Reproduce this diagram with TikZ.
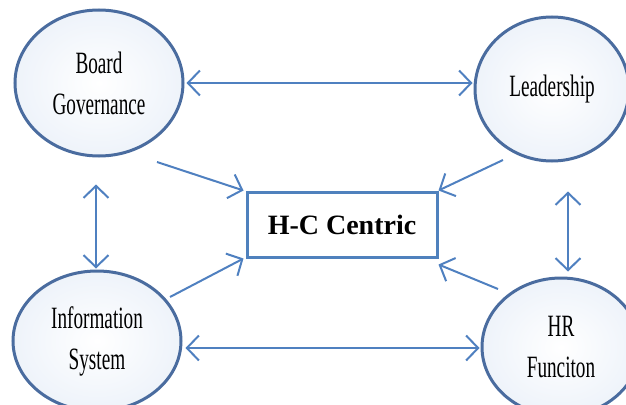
\documentclass[tikz,border=0pt]{standalone}
\usepackage{fontspec}
\setmainfont{Liberation Serif}
\newfontfamily\condfont[FakeStretch=0.62]{Liberation Serif}
\usetikzlibrary{shapes.geometric,arrows.meta}
\definecolor{ellline}{HTML}{4A6C9F}
\definecolor{arrline}{HTML}{4F80C0}
\definecolor{boxline}{HTML}{4F81BD}
\definecolor{glow}{HTML}{EEF3FA}
\tikzset{
  bubble/.style={ellipse, draw=ellline, line width=3pt, inner color=white, outer color=glow,
    align=center, font=\condfont\fontsize{31}{41}\selectfont, inner sep=0pt},
  centre/.style={draw=boxline, line width=3pt, fill=white, font=\bfseries\fontsize{28}{32}\selectfont,
    minimum width=190pt, minimum height=65pt, inner sep=0pt},
  link/.style={draw=arrline, line width=2pt, {Straight Barb[length=12pt,width=25pt]}-{Straight Barb[length=12pt,width=25pt]}},
  onelink/.style={draw=arrline, line width=2pt, -{Straight Barb[length=12pt,width=25pt]}}
}
\begin{document}
\begin{tikzpicture}[x=1pt,y=-1pt]
\useasboundingbox (0,0) rectangle (626,404);
\node[bubble, minimum width=168pt, minimum height=146pt] (bg) at (99,83) {Board\\Governance};
\node[bubble, minimum width=154pt, minimum height=144pt] (ld) at (552,89) {Leadership};
\node[bubble, minimum width=168pt, minimum height=140pt] (is) at (97,341) {Information\\System};
\node[bubble, minimum width=158pt, minimum height=138pt] (hr) at (561,347) {HR\\Funciton};
\node[centre] (hc) at (342,224.5) {H-C Centric};
% horizontal two-way
\draw[link] ([xshift=2pt]bg.east) -- ([xshift=-1pt]bg.east -| ld.west);
\draw[link] ([shift={(3,7)}]is.east) -- ([shift={(-1,7)}]is.east -| hr.west);
% vertical two-way
\draw[link] ([shift={(-3,27)}]bg.south) -- ([shift={(-3,-1)}]bg.south |- is.north);
\draw[link] ([shift={(16,29)}]ld.south) -- ([shift={(16,-5)}]ld.south |- hr.north);
% into centre
\draw[onelink] ([shift={(58,79)}]bg.center) -- ([xshift=-2pt]hc.north west);
\draw[onelink] ([shift={(-49,71)}]ld.center) -- (hc.north east);
\draw[onelink] ([shift={(73,-44)}]is.center) -- ([xshift=-2pt]hc.south west);
\draw[onelink] ([shift={(-63,-58)}]hr.center) -- ([shift={(0,6)}]hc.south east);
\end{tikzpicture}
\end{document}
